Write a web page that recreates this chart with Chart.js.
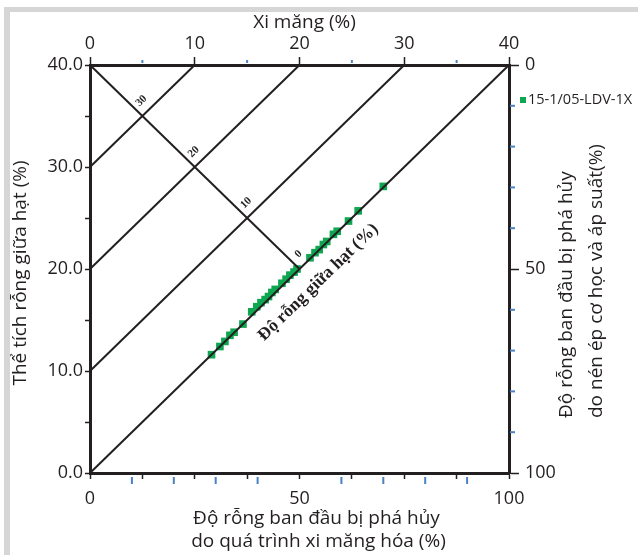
<!DOCTYPE html>
<html>
<head>
<meta charset="utf-8">
<script src="https://cdn.jsdelivr.net/npm/chart.js@4.4.1/dist/chart.umd.min.js"></script>
<style>
    html, body { margin: 0; padding: 0; background: #fff; }
</style>
</head>
<body>
<canvas id="chart" width="638" height="555"></canvas>
<script>
(function app() {

    // sample series: x = cementation porosity loss (%), y = intergranular volume (%)
    const seriesLabel = '15-1/05-LDV-1X';
    const cementLoss = [29.0, 31.0, 32.2, 33.4, 34.4, 36.5, 38.6, 39.8, 40.8, 41.8, 42.6, 43.4, 44.2, 45.8,
        46.8, 47.7, 48.7, 49.4, 52.5, 53.7, 54.7, 55.7, 56.5, 58.1, 59.0, 61.7, 64.0, 70.0];
    const intergranularVolume = [11.6, 12.4, 12.9, 13.5, 13.8, 14.6, 15.8, 16.3, 16.7, 17.0, 17.3, 17.7, 18.0, 18.6,
        19.0, 19.4, 19.7, 20.0, 21.1, 21.6, 21.9, 22.4, 22.7, 23.4, 23.7, 24.7, 25.7, 28.1];

    // guide lines of constant intergranular porosity + the perpendicular scale line
    const guideLineX = [[0, 25], [0, 50], [0, 75], [0, 100], [0, 50]];
    const guideLineY = [[30, 40], [20, 40], [10, 40], [0, 40], [40, 20]];
    const porosityLabels = ['30', '20', '10', '0'];
    const porosityLabelX = [12.5, 25, 37.5, 50];
    const porosityLabelY = [35, 30, 25, 20];

    // axis ticks
    const bottomTickLabels = [0, 50, 100];
    const leftTickLabels = [0, 10, 20, 30, 40];
    const topTickLabels = [0, 10, 20, 30, 40];
    const rightTickLabels = [0, 50, 100];
    const bottomMinorTicks = [10, 20, 30, 40, 60, 70, 80, 90];
    const topMinorTicks = [5, 15, 25, 35];
    const rightMinorTicks = [10, 20, 30, 40, 60, 70, 80, 90];

    const ink = '#231f20';
    const green = '#0fa650';
    const blue = '#4a82c4';
    const sans = "'Open Sans', sans-serif";
    const serif = "'Liberation Serif', 'DejaVu Serif', serif";

    Chart.defaults.font.family = sans;
    Chart.defaults.color = ink;

    const guideDatasets = guideLineX.map((xs, i) => ({
        type: 'line',
        data: xs.map((x, j) => ({ x: x, y: guideLineY[i][j] })),
        borderColor: ink,
        borderWidth: 2,
        pointRadius: 0,
        fill: false,
        clip: false
    }));

    const pointDataset = {
        type: 'scatter',
        label: seriesLabel,
        data: cementLoss.map((x, i) => ({ x: x, y: intergranularVolume[i] })),
        backgroundColor: green,
        borderColor: green,
        borderWidth: 0,
        pointStyle: 'rect',
        pointRadius: 5.4
    };

    function axisBase(size) {
        return {
            type: 'linear',
            border: { color: ink, width: 3 },
            grid: { drawOnChartArea: false, color: ink, tickColor: ink, tickWidth: 1.5, tickLength: size }
        };
    }

    const decorations = {
        id: 'decorations',
        beforeDraw(chart) {
            const ctx = chart.ctx;
            ctx.save();
            ctx.fillStyle = '#d6d6d6';
            ctx.fillRect(4, 7, 634, 5);
            ctx.fillRect(4, 7, 6, 548);
            ctx.restore();
        },
        afterDraw(chart) {
            const ctx = chart.ctx;
            const s = chart.scales;
            const area = chart.chartArea;
            const midX = (area.left + area.right) / 2;
            ctx.save();

            // blue minor ticks
            ctx.fillStyle = blue;
            bottomMinorTicks.forEach(v => {
                const px = s.x.getPixelForValue(v);
                ctx.fillRect(px - 1, area.bottom + 4, 2, 7);
            });
            topMinorTicks.forEach(v => {
                const px = s.x2.getPixelForValue(v);
                ctx.fillRect(px - 1, area.top - 5, 2, 3);
            });
            rightMinorTicks.forEach(v => {
                const py = s.y2.getPixelForValue(v);
                ctx.fillRect(area.right + 1, py - 1, 5, 2);
            });

            // porosity labels along the perpendicular line
            const x0 = s.x.getPixelForValue(0), y0 = s.y.getPixelForValue(0);
            const x1 = s.x.getPixelForValue(100), y1 = s.y.getPixelForValue(40);
            const angle = Math.atan2(y1 - y0, x1 - x0);
            ctx.fillStyle = ink;
            ctx.textAlign = 'center';
            ctx.textBaseline = 'middle';
            ctx.font = 'bold 11px ' + serif;
            porosityLabels.forEach((label, i) => {
                const px = s.x.getPixelForValue(porosityLabelX[i]);
                const py = s.y.getPixelForValue(porosityLabelY[i]);
                ctx.save();
                ctx.translate(px - 1, py - 15);
                ctx.rotate(angle);
                ctx.fillText(label, 0, 0);
                ctx.restore();
            });

            // text along the zero-porosity line
            ctx.save();
            ctx.font = 'bold 17.5px ' + serif;
            ctx.translate(s.x.getPixelForValue(54.5), s.y.getPixelForValue(18.7));
            ctx.rotate(angle);
            ctx.fillText('Độ rỗng giữa hạt (%)', 0, 0);
            ctx.restore();

            // axis titles
            ctx.font = '19px ' + sans;
            ctx.fillText('Xi măng (%)', midX + 5, 23);
            ctx.fillText('Độ rỗng ban đầu bị phá hủy', midX + 17, area.bottom + 46);
            ctx.fillText('do quá trình xi măng hóa (%)', midX + 19, area.bottom + 69);

            ctx.save();
            ctx.translate(21, (area.top + area.bottom) / 2 + 4);
            ctx.rotate(-Math.PI / 2);
            ctx.fillText('Thể tích rỗng giữa hạt (%)', 0, 0);
            ctx.restore();

            ctx.save();
            ctx.translate(area.right + 58, area.bottom - 55);
            ctx.rotate(-Math.PI / 2);
            ctx.textAlign = 'left';
            ctx.fillText('Độ rỗng ban đầu bị phá hủy', 0, 0);
            ctx.fillText('do nén ép cơ học và áp suất(%)', 0, 30);
            ctx.restore();

            // legend
            ctx.fillStyle = green;
            ctx.fillRect(area.right + 11, area.top + 32, 6, 6);
            ctx.fillStyle = ink;
            ctx.textAlign = 'left';
            ctx.font = '14.5px ' + sans;
            ctx.fillText(seriesLabel, area.right + 19, area.top + 35);

            ctx.restore();
        }
    };

    const tickFont = { family: sans, size: 18 };

    const configuration = {
        data: { datasets: [...guideDatasets, pointDataset] },
        options: {
            responsive: false,
            animation: false,
            layout: { padding: 0 },
            plugins: {
                legend: { display: false },
                tooltip: { enabled: false }
            },
            scales: {
                x: Object.assign(axisBase(6), {
                    position: 'bottom', min: 0, max: 100,
                    ticks: {
                        stepSize: 12.5, autoSkip: false, maxRotation: 0, padding: 9, font: tickFont, color: ink,
                        callback: v => bottomTickLabels.includes(v) ? String(v) : ''
                    },
                    afterFit: scale => { scale.height = 82; scale.paddingLeft = 0; scale.paddingRight = 0; }
                }),
                y: Object.assign(axisBase(5), {
                    position: 'left', min: 0, max: 40,
                    ticks: {
                        stepSize: 5, autoSkip: false, padding: 2, font: tickFont, color: ink,
                        callback: v => leftTickLabels.includes(v) ? v.toFixed(1) : ''
                    },
                    afterFit: scale => { scale.width = 90; scale.paddingTop = 0; scale.paddingBottom = 0; }
                }),
                x2: Object.assign(axisBase(8), {
                    axis: 'x', position: 'top', min: 0, max: 40,
                    ticks: {
                        stepSize: 10, autoSkip: false, maxRotation: 0, padding: 2, font: tickFont, color: ink,
                        callback: v => topTickLabels.includes(v) ? String(v) : ''
                    },
                    afterFit: scale => { scale.height = 65; scale.paddingLeft = 0; scale.paddingRight = 0; }
                }),
                y2: Object.assign(axisBase(10), {
                    axis: 'y', position: 'right', min: 0, max: 100, reverse: true,
                    ticks: {
                        stepSize: 50, autoSkip: false, padding: 6, font: tickFont, color: ink,
                        callback: v => rightTickLabels.includes(v) ? String(v) : ''
                    },
                    afterFit: scale => { scale.width = 129; scale.paddingTop = 0; scale.paddingBottom = 0; }
                })
            }
        },
        plugins: [decorations]
    };

    new Chart(document.getElementById('chart'), configuration);
})();
</script>
</body>
</html>
